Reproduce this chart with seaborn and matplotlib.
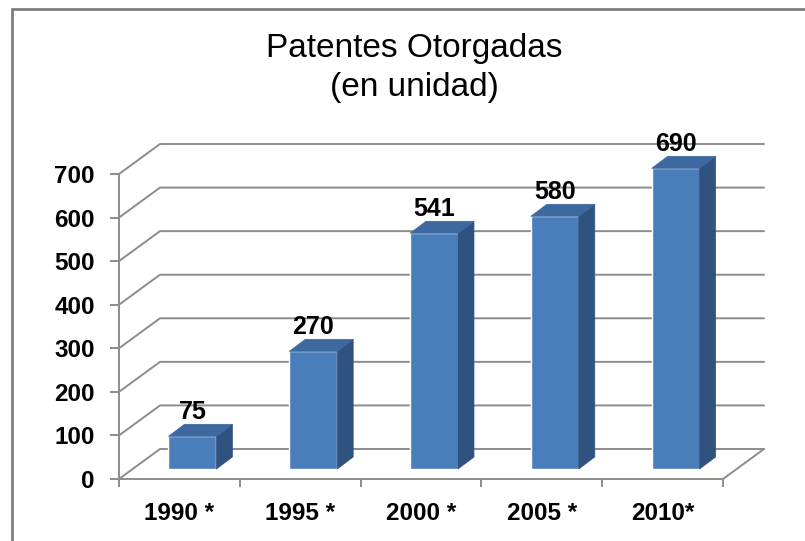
import matplotlib
matplotlib.use("Agg")
import numpy as np
import pandas as pd
import matplotlib.pyplot as plt
import seaborn as sns
from matplotlib.transforms import ScaledTranslation
from matplotlib.patches import Polygon
from matplotlib.lines import Line2D

# %%
# data
years = ["1990 *", "1995 *", "2000 *", "2005 *", "2010*"]
patentes = [75, 270, 541, 580, 690]
y_ticks = [0, 100, 200, 300, 400, 500, 600, 700]
title = "Patentes Otorgadas\n(en unidad)"

FRONT = "#4a7ebb"
TOP = "#3d68a0"
SIDE = "#30527f"
GRID = "#8c8c8c"

sns.set_style("white")
plt.rcParams["font.family"] = ["Liberation Sans", "DejaVu Sans"]

W, H = 805, 541
fig = plt.figure(figsize=(W / 100, H / 100), dpi=100)
ax = fig.add_axes([119 / W, (H - 479) / H, (723 - 119) / W, (479 - 174) / H])

df = pd.DataFrame({"year": years, "patentes": patentes})
sns.barplot(data=df, x="year", y="patentes", color=FRONT, saturation=1,
            width=0.397, ax=ax, zorder=3)
ax.set_xlim(-0.5, len(years) - 0.5)
ax.set_ylim(0, 700)

# pixel -> data conversions for the fake 3D depth
p0 = ax.transData.transform((0, 0))
p1 = ax.transData.transform((1, 100))
sx = p1[0] - p0[0]
sy = (p1[1] - p0[1]) / 100
wall_dx, wall_dy = 41 / sx, 30 / sy
bar_dx, bar_dy = 16 / sx, 12 / sy
x_hi = len(years) - 0.5

# back wall gridlines + left wall diagonals
for v in y_ticks:
    ax.plot([-0.5, -0.5 + wall_dx, x_hi + wall_dx], [v, v + wall_dy, v + wall_dy],
            color=GRID, lw=1.4, clip_on=False, zorder=1)
# floor right edge
ax.plot([x_hi, x_hi + wall_dx], [0, wall_dy], color=GRID, lw=1.4, clip_on=False, zorder=1)

# bars sit a bit back from the front edge of the floor
tr = ax.transData + ScaledTranslation(13 / 100, 10 / 100, fig.dpi_scale_trans)
lab_tr = ax.transData + ScaledTranslation(13 / 100, 27 / 100, fig.dpi_scale_trans)
for p, val in zip(list(ax.patches), patentes):
    p.set_transform(tr)
    p.set_clip_on(False)
    x, w, h = p.get_x(), p.get_width(), p.get_height()
    side = [(x + w, 0), (x + w, h), (x + w + bar_dx, h + bar_dy), (x + w + bar_dx, bar_dy)]
    top = [(x, h), (x + w, h), (x + w + bar_dx, h + bar_dy), (x + bar_dx, h + bar_dy)]
    ax.add_patch(Polygon(side, closed=True, facecolor=SIDE, edgecolor=SIDE, lw=0.5,
                         transform=tr, clip_on=False, zorder=3))
    ax.add_patch(Polygon(top, closed=True, facecolor=TOP, edgecolor=TOP, lw=0.5,
                         transform=tr, clip_on=False, zorder=3))
    ax.text(x + w / 2, h, f"{val}", transform=lab_tr, ha="center", va="baseline",
            fontsize=18, fontweight="bold", color="black", zorder=4, clip_on=False)

# axes styling
for s in ["top", "right"]:
    ax.spines[s].set_visible(False)
for s in ["left", "bottom"]:
    ax.spines[s].set_color(GRID)
    ax.spines[s].set_linewidth(1.4)
    ax.spines[s].set_zorder(1)

ax.set_yticks(y_ticks)
ax.set_yticklabels([str(t) for t in y_ticks], fontweight="bold")
ax.set_xticks(range(len(years)))
ax.set_xticklabels(years, fontweight="bold")
ax.set_xticks(np.arange(-0.5, len(years)), minor=True)
ax.tick_params(axis="y", left=True, direction="out", length=6.5, width=1.4,
               color=GRID, pad=11, labelsize=17.5, labelcolor="black")
ax.tick_params(axis="x", which="major", bottom=True, length=0, pad=16.5,
               labelsize=17.5, labelcolor="black")
ax.tick_params(axis="x", which="minor", bottom=True, direction="out", length=6,
               width=1.4, color=GRID)
ax.set_xlabel("")
ax.set_ylabel("")
ax.patch.set_alpha(0)

fig.text(414 / W, 1 - 68 / H, title, ha="center", va="center", fontsize=24,
         linespacing=1.3, color="black")

# chart frame (left and top edges visible)
fig.add_artist(Line2D([12 / W, 12 / W], [0, 1 - 9 / H], color="#808080", lw=2))
fig.add_artist(Line2D([12 / W, 1], [1 - 9 / H, 1 - 9 / H], color="#808080", lw=2))

fig.savefig("out.png", dpi=100)
